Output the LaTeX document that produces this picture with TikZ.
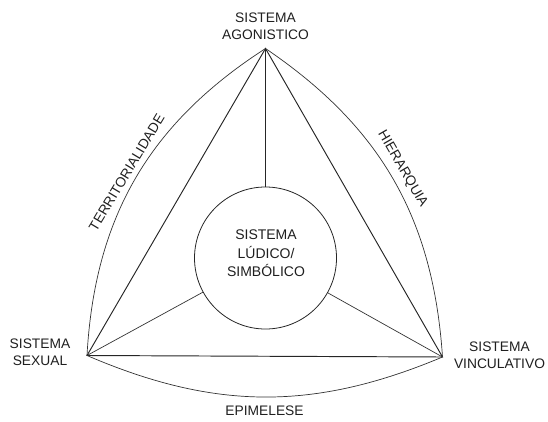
\documentclass[tikz,border=0pt]{standalone}
\usepackage{fontspec}
\setmainfont{Liberation Sans}
\begin{document}
\begin{tikzpicture}[x=1pt,y=-1pt,
  lbl/.style={font=\fontsize{13.8}{16.7}\selectfont, align=center, text=black!88, inner sep=0pt},
  ln/.style={draw=black!85, line width=0.95pt},
  arcln/.style={draw=black!80, line width=0.7pt},
  spoke/.style={draw=black!80, line width=0.7pt}]
\useasboundingbox (0,0) rectangle (548,422);
\coordinate (A) at (265.5,48.5);
\coordinate (S) at (87,355.5);
\coordinate (V) at (442.5,357);
% triangle
\draw[ln, line join=miter] (A) -- (S) -- (V) -- cycle;
% outer arcs
\draw[arcln] (A) to[bend right=27] (S);
\draw[arcln] (S) to[bend right=23] (V);
\draw[arcln] (V) to[bend right=26] (A);
% central circle
\node[circle, draw=black!85, line width=0.8pt, minimum size=142pt, inner sep=0pt] (C) at (265.5,258) {};
\draw[ln] (C) -- (A);
\draw[spoke] (C) -- (S);
\draw[spoke] (C) -- (V);
% labels
\node[lbl] (ag) at (265.5,26.4) {SISTEMA\\AGONISTICO};
\node[lbl] (sx) at (40,352) {SISTEMA\\SEXUAL};
\node[lbl] (vi) at (499.5,355.3) {SISTEMA\\VINCULATIVO};
\node[lbl, font=\fontsize{14}{18.5}\selectfont] (lu) at (266,253.5) {SISTEMA\\LÚDICO/\\SIMBÓLICO};
\node[lbl] (ep) at (264.5,410.5) {EPIMELESE};
\node[lbl, rotate=59] (te) at (126.7,172.5) {TERRITORIALIDADE};
\node[lbl, rotate=-60] (hi) at (402.5,169) {HIERARQUIA};
\end{tikzpicture}
\end{document}
